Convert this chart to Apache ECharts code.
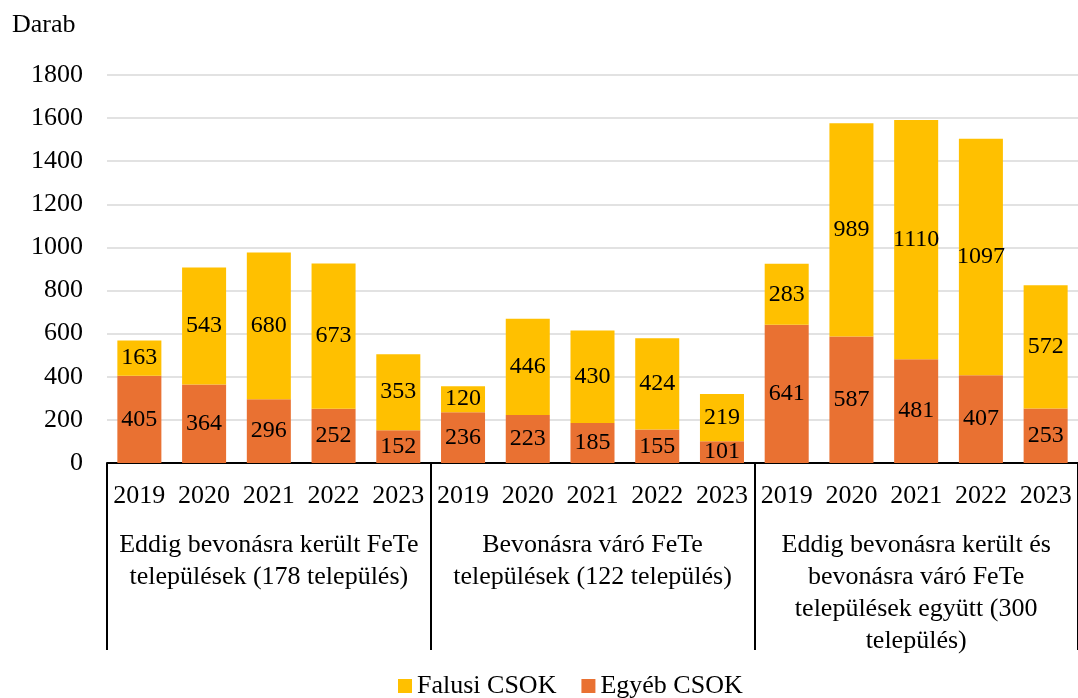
<!DOCTYPE html>
<html>
<head>
<meta charset="utf-8">
<title>Falusi CSOK</title>
<script src="https://cdn.jsdelivr.net/npm/echarts@6/dist/echarts.min.js"></script>
<style>
  html, body { margin: 0; padding: 0; background: #fff; }
  #chart { width: 1078px; height: 698px; }
</style>
</head>
<body>
<div id="chart"></div>
<script>
// adatok
var years = ['2019', '2020', '2021', '2022', '2023',
             '2019', '2020', '2021', '2022', '2023',
             '2019', '2020', '2021', '2022', '2023'];
var groups = [
    'Eddig bevonásra került FeTe\ntelepülések (178 település)',
    'Bevonásra váró FeTe\ntelepülések (122 település)',
    'Eddig bevonásra került és\nbevonásra váró FeTe\ntelepülések együtt (300\ntelepülés)'
];
var egyebCsok = [405, 364, 296, 252, 152, 236, 223, 185, 155, 101, 641, 587, 481, 407, 253];
var falusiCsok = [163, 543, 680, 673, 353, 120, 446, 430, 424, 219, 283, 989, 1110, 1097, 572];
var yTicks = { min: 0, max: 1800, interval: 200 };

var FONT = 'Liberation Serif, Times New Roman, serif';

var labelStyle = {
    show: true,
    position: 'inside',
    color: '#000',
    fontFamily: FONT,
    fontSize: 24
};

var option = {
    animation: false,
    textStyle: { fontFamily: FONT },
    title: {
        text: 'Darab',
        left: 7,
        top: 7,
        textStyle: { fontFamily: FONT, fontSize: 26, fontWeight: 'normal', color: '#000' }
    },
    legend: {
        data: ['Falusi CSOK', 'Egyéb CSOK'],
        left: 393,
        top: 668,
        itemWidth: 14,
        itemHeight: 14,
        itemGap: 25,
        icon: 'rect',
        textStyle: { fontFamily: FONT, fontSize: 26, color: '#000' }
    },
    grid: {
        left: 107,
        top: 75,
        width: 975,
        bottom: 235,
        containLabel: false
    },
    xAxis: [
        {
            type: 'category',
            data: years,
            position: 'bottom',
            axisLine: { lineStyle: { color: '#000', width: 2 } },
            axisTick: { show: false },
            axisLabel: {
                interval: 0,
                margin: 20,
                color: '#000',
                fontFamily: FONT,
                fontSize: 26
            }
        },
        {
            type: 'category',
            data: groups,
            position: 'bottom',
            axisLine: { show: false },
            axisTick: {
                show: true,
                length: 187,
                interval: 0,
                lineStyle: { color: '#000', width: 2 }
            },
            axisLabel: {
                interval: 0,
                margin: 66,
                color: '#000',
                fontFamily: FONT,
                fontSize: 26,
                lineHeight: 32
            }
        }
    ],
    yAxis: {
        type: 'value',
        min: yTicks.min,
        max: yTicks.max,
        interval: yTicks.interval,
        axisLine: { show: false },
        axisTick: { show: false },
        splitLine: { lineStyle: { color: '#D9D9D9', width: 1.5 } },
        axisLabel: {
            margin: 24,
            color: '#000',
            fontFamily: FONT,
            fontSize: 26,
            formatter: function (v) { return String(v); }
        }
    },
    series: [
        {
            name: 'Egyéb CSOK',
            type: 'bar',
            stack: 'csok',
            xAxisIndex: 0,
            barWidth: '68%',
            data: egyebCsok,
            itemStyle: { color: '#E97132' },
            label: labelStyle
        },
        {
            name: 'Falusi CSOK',
            type: 'bar',
            stack: 'csok',
            xAxisIndex: 0,
            barWidth: '68%',
            data: falusiCsok,
            itemStyle: { color: '#FFC000' },
            label: labelStyle
        }
    ]
};

var myChart = echarts.init(document.getElementById('chart'));
myChart.setOption(option);
</script>
</body>
</html>
